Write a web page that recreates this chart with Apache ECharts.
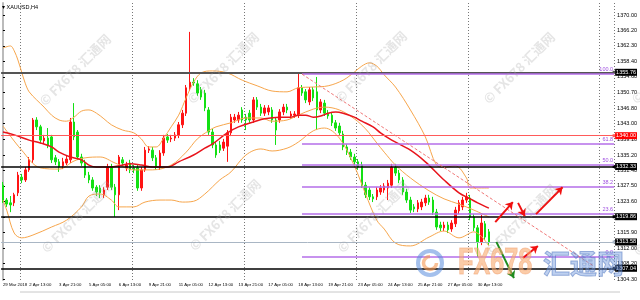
<!DOCTYPE html>
<html><head><meta charset="utf-8">
<script src="https://cdn.jsdelivr.net/npm/echarts@6/dist/echarts.min.js"></script>
<style>html,body{margin:0;padding:0;background:#fff}#c{width:640px;height:300px}</style>
</head><body><div id="c"></div>
<script>
// ---- data ----
const tickLabels = [[0,'29 Mar 2018'],[7,'2 Apr 13:00'],[15,'3 Apr 21:00'],[23,'5 Apr 05:00'],[31,'6 Apr 13:00'],[39,'9 Apr 21:00'],[47,'11 Apr 05:00'],[55,'12 Apr 13:00'],[63,'13 Apr 21:00'],[71,'17 Apr 05:00'],[79,'18 Apr 13:00'],[87,'19 Apr 21:00'],[95,'23 Apr 05:00'],[103,'24 Apr 13:00'],[111,'25 Apr 21:00'],[119,'27 Apr 05:00'],[127,'30 Apr 13:00']];
const slotCount = 164;
const gridSlots = [5,35,65,95,125,160];
const priceTicks = [1304.30,1308.20,1312.00,1315.90,1319.80,1323.60,1327.50,1331.40,1335.20,1339.10,1343.00,1346.80,1350.70,1354.60,1358.40,1362.30,1366.20,1370.00];
// [open, close, low, high]
const candles = [
[1327.7,1324.0,1323.3,1328.5],[1324.0,1323.0,1322.3,1324.5],[1323.3,1322.8,1321.0,1325.0],[1323.3,1325.3,1322.5,1325.8],[1325.8,1330.2,1325.0,1331.0],
[1329.7,1329.0,1328.2,1330.5],[1329.0,1331.5,1328.5,1332.2],[1331.5,1334.0,1331.0,1334.7],[1334.0,1343.9,1333.2,1344.4],[1343.9,1342.2,1341.4,1344.6],
[1342.2,1338.9,1338.2,1342.7],[1338.7,1339.4,1337.9,1340.2],[1339.4,1337.7,1336.9,1341.9],[1339.7,1334.0,1333.2,1340.2],[1334.5,1333.5,1332.7,1335.2],
[1333.5,1332.2,1331.0,1334.2],[1332.5,1333.5,1331.7,1334.5],[1333.2,1334.2,1332.7,1335.0],[1334.0,1343.4,1333.2,1344.4],[1343.4,1339.7,1338.9,1348.1],
[1340.9,1334.7,1334.0,1341.4],[1334.7,1333.2,1332.5,1335.5],[1333.2,1330.2,1329.5,1334.0],[1330.2,1329.0,1328.2,1331.0],[1329.0,1327.0,1326.3,1329.7],
[1327.2,1326.0,1325.0,1327.7],[1327.0,1325.8,1324.5,1327.7],[1325.3,1326.5,1324.5,1327.2],[1327.2,1332.2,1326.5,1333.0],[1332.2,1327.2,1326.5,1333.0],
[1327.2,1325.3,1319.8,1328.0],[1325.3,1334.7,1321.5,1335.2],[1334.0,1333.2,1332.5,1334.7],[1332.0,1332.7,1331.2,1333.5],[1333.2,1331.5,1330.7,1334.0],
[1332.0,1331.5,1330.7,1332.7],[1332.0,1327.0,1326.3,1332.7],[1327.0,1331.5,1326.3,1332.2],[1331.5,1336.4,1331.0,1337.2],[1336.4,1336.7,1335.7,1337.4],
[1336.4,1334.5,1333.7,1337.2],[1334.5,1332.2,1331.5,1335.2],[1332.2,1335.7,1331.5,1336.4],[1335.7,1339.4,1335.0,1340.2],[1339.7,1338.9,1338.2,1340.4],
[1339.2,1339.4,1338.4,1340.2],[1339.4,1340.2,1338.7,1340.9],[1340.2,1342.7,1339.4,1343.4],[1342.7,1345.6,1341.9,1346.4],[1345.6,1351.9,1344.9,1352.6],
[1351.9,1353.3,1351.1,1365.8],[1353.3,1353.1,1352.4,1354.3],[1352.9,1350.6,1349.9,1353.8],[1351.4,1349.6,1348.9,1352.1],[1350.6,1346.9,1346.1,1351.4],
[1346.4,1340.9,1340.2,1347.1],[1340.9,1337.7,1336.9,1341.7],[1337.7,1335.2,1334.5,1338.4],[1337.7,1336.4,1335.7,1338.7],[1336.9,1338.4,1336.2,1339.2],
[1337.4,1340.7,1333.5,1341.4],[1340.7,1344.6,1339.9,1345.4],[1343.9,1344.6,1343.2,1345.4],[1343.9,1345.1,1343.2,1345.9],[1346.4,1343.9,1343.2,1347.1],
[1344.6,1343.9,1341.4,1345.4],[1345.6,1343.9,1343.2,1346.4],[1343.9,1348.9,1343.2,1349.6],[1348.9,1347.1,1346.4,1349.6],[1347.1,1345.6,1344.9,1347.9],
[1345.6,1346.9,1344.9,1347.6],[1345.9,1346.9,1345.1,1347.6],[1346.4,1343.9,1343.2,1347.1],[1343.9,1341.4,1337.7,1344.6],[1343.9,1345.9,1343.2,1346.6],
[1345.9,1347.1,1345.1,1347.9],[1347.1,1346.4,1345.6,1347.9],[1344.9,1345.4,1344.2,1346.1],[1345.1,1345.4,1344.4,1346.1],[1345.1,1351.9,1344.4,1355.6],
[1351.9,1350.6,1349.9,1352.6],[1350.9,1348.9,1348.1,1351.6],[1348.4,1351.4,1347.6,1352.1],[1351.4,1349.4,1348.6,1352.1],[1350.9,1346.4,1341.4,1354.6],
[1346.4,1348.4,1345.6,1349.1],[1348.1,1345.6,1344.9,1348.9],[1345.6,1344.9,1344.2,1346.4],[1345.1,1343.2,1342.4,1345.9],[1343.2,1341.9,1341.2,1343.9],
[1342.4,1340.7,1339.9,1343.2],[1340.4,1337.2,1336.4,1341.2],[1337.2,1335.9,1335.2,1337.9],[1335.9,1334.7,1334.0,1336.7],[1334.7,1333.5,1332.7,1335.5],
[1333.5,1332.2,1331.5,1334.2],[1332.7,1327.7,1327.0,1333.5],[1327.7,1325.3,1324.5,1328.5],[1326.5,1324.8,1324.0,1327.2],[1324.8,1324.3,1323.5,1325.5],
[1324.8,1326.5,1324.0,1327.2],[1326.0,1327.0,1325.3,1327.7],[1326.5,1327.5,1325.8,1328.2],[1327.0,1328.2,1324.0,1329.0],[1327.7,1332.2,1327.0,1333.0],
[1332.2,1330.7,1330.0,1333.0],[1330.7,1329.0,1328.2,1331.5],[1329.0,1326.0,1325.3,1329.7],[1326.0,1324.0,1323.3,1326.8],[1324.0,1321.5,1320.8,1324.8],
[1322.3,1321.8,1321.0,1323.0],[1321.8,1323.3,1321.0,1324.0],[1322.3,1323.5,1321.5,1324.3],[1323.3,1324.5,1322.5,1325.3],[1324.5,1323.5,1322.8,1325.3],
[1324.0,1321.0,1320.3,1324.8],[1321.0,1317.3,1316.6,1321.8],[1317.8,1317.1,1316.3,1318.6],[1317.1,1317.8,1316.3,1318.6],[1317.8,1316.6,1315.8,1318.6],
[1316.8,1318.3,1316.1,1319.0],[1318.1,1321.5,1317.3,1322.3],[1321.3,1323.3,1320.5,1324.0],[1322.3,1324.0,1321.5,1324.8],[1324.0,1324.8,1323.3,1325.8],
[1324.5,1319.8,1319.0,1325.3],[1319.8,1317.1,1316.3,1320.5],[1317.1,1313.6,1309.8,1317.8],[1313.6,1318.3,1312.8,1320.3],[1318.1,1314.8,1314.1,1318.8],
[1316.1,1313.6,1312.8,1316.8]
];
// Bollinger bands (orange) and slower moving average (red), read at bar indices
const bbUpper = [[0,1361.8],[2,1362.3],[3,1361.1],[4,1358.8],[5,1355.8],[6,1352.9],[7,1350.9],[9,1348.9],[11,1347.1],[13,1345.1],[15,1343.9],[17,1343.6],[19,1344.6],[21,1346.1],[23,1346.4],[25,1345.6],[27,1344.2],[29,1342.7],[32,1341.4],[35,1340.7],[37,1339.2],[39,1337.2],[41,1337.2],[43,1339.4],[45,1342.2],[47,1345.1],[49,1349.4],[51,1353.3],[53,1355.6],[56,1356.1],[60,1355.6],[64,1353.8],[68,1352.4],[72,1351.1],[76,1350.9],[79,1351.9],[83,1352.1],[87,1352.4],[91,1353.8],[94,1355.8],[96,1357.3],[98,1358.1],[100,1357.3],[102,1355.1],[105,1352.1],[109,1346.4],[113,1339.7],[116,1332.7],[118,1332.2],[121,1332.5],[124,1329.5],[125,1327.0],[130,1327.0]];
const bbMiddle = [[0,1342.4],[5,1336.4],[10,1332.0],[15,1331.7],[19,1333.7],[22,1334.5],[26,1334.7],[30,1333.2],[35,1331.5],[40,1331.5],[45,1332.7],[49,1335.9],[52,1339.2],[55,1341.2],[57,1342.2],[61,1343.2],[65,1344.4],[69,1344.4],[72,1343.6],[76,1343.9],[79,1345.1],[83,1346.6],[86,1347.1],[90,1346.4],[94,1344.2],[97,1341.7],[100,1338.2],[102,1335.9],[105,1332.7],[109,1329.5],[114,1326.3],[118,1324.3],[122,1323.0],[126,1321.5],[130,1319.8]];
const bbLower = [[0,1324.0],[1,1321.5],[3,1315.8],[5,1314.6],[8,1315.3],[13,1317.3],[17,1319.0],[21,1322.3],[23,1325.0],[26,1325.5],[29,1324.0],[31,1322.3],[35,1322.3],[38,1323.5],[42,1324.0],[45,1324.0],[48,1323.5],[51,1323.7],[54,1325.5],[58,1329.0],[61,1331.0],[65,1335.2],[69,1336.7],[72,1336.2],[76,1336.9],[79,1338.4],[83,1341.2],[86,1341.9],[90,1339.4],[94,1332.5],[97,1325.5],[100,1319.0],[102,1316.8],[105,1313.3],[109,1312.6],[114,1314.8],[118,1316.3],[122,1314.6],[126,1316.1],[130,1312.6]];
const maLine = [[0,1340.9],[3,1340.2],[7,1338.9],[10,1338.2],[13,1337.2],[15,1335.9],[18,1334.7],[21,1334.0],[23,1332.7],[25,1332.2],[29,1332.2],[31,1332.5],[34,1333.0],[37,1332.7],[40,1332.2],[44,1332.2],[47,1333.5],[51,1335.2],[54,1336.9],[56,1337.9],[60,1340.7],[63,1342.2],[67,1343.4],[70,1344.2],[74,1344.6],[77,1344.6],[79,1345.1],[81,1345.1],[83,1344.6],[85,1344.9],[87,1345.6],[89,1345.9],[91,1345.6],[94,1344.6],[96,1343.6],[99,1342.2],[101,1340.7],[104,1338.9],[109,1336.4],[113,1333.5],[118,1329.0],[122,1325.8],[125,1324.3],[127,1323.3],[130,1322.0]];
// horizontal levels
const levelLines = [
  {v:1355.76, color:'#555', width:2, box:'#000'},
  {v:1340.00, color:'#ff5a5a', width:1, box:'#ff0000'},
  {v:1332.33, color:'#000', width:1.5, box:'#000'},
  {v:1319.86, color:'#000', width:1.5, box:'#000'},
  {v:1313.58, color:'#a9b6c4', width:1, box:'#000'},
  {v:1307.04, color:'#000', width:1.5, box:'#000'}
];
const fibStart = 80;
const fibLevels = [['100.0',1355.5],['61.8',1338.1],['50.0',1332.75],['38.2',1327.4],['23.6',1320.7],['0.0',1310.0]];
const trendLine = [[80,1355.3],[158,1307.6]];
const arrows = [
  {from:[131.7,1318.5], to:[136.4,1323.5], color:'#f01010'},
  {from:[137.8,1323.3], to:[139.6,1320.0], color:'#f01010'},
  {from:[142.6,1320.5], to:[149.7,1327.2], color:'#f01010'},
  {from:[132.0,1313.6], to:[136.7,1304.6], color:'#1e8c1e'},
  {from:[139.1,1309.6], to:[143.1,1312.6], color:'#f01010'}
];

// ---- chart ----
const labelAt = Object.fromEntries(tickLabels);
const categories = Array.from({length: slotCount}, (_, i) => String(i));
const gridSet = new Set(gridSlots);
const FONT = 'Liberation Sans';

const levelMarks = levelLines.map(l => ({
  yAxis: l.v,
  lineStyle: {color: l.color, width: l.width, type: 'solid'},
  label: {show: true, position: 'end', distance: 1, formatter: l.v.toFixed(2), color: '#fff',
          backgroundColor: l.box, fontSize: 5.5, fontFamily: FONT, padding: [1, 1, 0, 1]}
}));
const fibMarks = fibLevels.map(f => [
  {coord: [fibStart, f[1]], lineStyle: {color: '#b46ee8', width: 1.5, type: 'solid'},
   label: {show: true, position: 'insideEndTop', distance: 1, formatter: f[0], color: '#a050e0', fontSize: 5.5, fontFamily: FONT}},
  {coord: [slotCount - 0.5, f[1]]}
]);
const arrowMarks = arrows.map(a => [
  {coord: a.from, lineStyle: {color: a.color, width: 2, type: 'solid'}, symbol: 'none'},
  {coord: a.to, symbol: 'arrow', symbolSize: 7}
]);

const wmText = '© FX678 汇通网';
const wmCenters = [[75,70],[223,68],[371,67],[519,68],[667,68],[77,217],[225,215],[373,217],[521,220],[669,220]];
const graphics = wmCenters.map(c => ({
  type: 'text', x: c[0], y: c[1], rotation: Math.PI / 4, z: 100, silent: true,
  style: {text: wmText, fontSize: 13, fontWeight: 'bold', fontFamily: 'Noto Sans CJK SC',
          fill: 'rgba(160,160,160,0.28)', align: 'center', verticalAlign: 'middle'}
}));
graphics.push(
  {type: 'text', x: 2, y: 7, z: 100, style: {text: '▾ XAUUSD,H4', fontSize: 5.5, fontFamily: FONT, fill: '#000', verticalAlign: 'middle'}},
  {type: 'circle', shape: {cx: 430, cy: 263, r: 12}, z: 100, style: {fill: 'none', stroke: 'rgba(90,140,220,0.55)', lineWidth: 4}},
  {type: 'arc', shape: {cx: 430, cy: 263, r: 6.5, startAngle: 0, endAngle: Math.PI * 1.5}, z: 100, style: {fill: 'none', stroke: 'rgba(245,150,80,0.6)', lineWidth: 3.5}},
  {type: 'text', x: 458, y: 264, scaleX: 0.7, z: 100, style: {text: 'FX678', fontSize: 36, fontWeight: 'bold', fontFamily: FONT, fill: 'rgba(248,170,110,0.6)', stroke: 'rgba(235,140,90,0.45)', lineWidth: 1, verticalAlign: 'middle'}},
  {type: 'text', x: 543, y: 264, z: 100, style: {text: '汇通网', fontSize: 27, fontWeight: 'bold', fontFamily: 'Noto Sans CJK SC', fill: 'rgba(110,150,220,0.45)', stroke: 'rgba(60,100,180,0.5)', lineWidth: 1, verticalAlign: 'middle'}},
  {type: 'line', shape: {x1: 20, y1: 292, x2: 620, y2: 292}, style: {stroke: '#c8c8c8', lineWidth: 1}}
);

const chart = echarts.init(document.getElementById('c'), null, {renderer: 'canvas'});
chart.setOption({
  animation: false,
  backgroundColor: '#fff',
  textStyle: {fontFamily: FONT},
  grid: {left: 0, right: 21, top: 3, bottom: 20},
  graphic: graphics,
  xAxis: [
    {type: 'category', data: categories, boundaryGap: true,
     axisLine: {show: false}, axisTick: {show: false},
     axisLabel: {interval: (i) => labelAt[i] !== undefined, formatter: (v, i) => labelAt[i] || '',
                 showMinLabel: true, hideOverlap: false,
                 fontSize: 4.3, color: '#000', align: 'left', margin: 3, fontFamily: FONT},
     splitLine: {show: true, interval: (i) => gridSet.has(i), lineStyle: {color: '#777', type: [1, 2], width: 1}}},
    {type: 'value', min: -0.5, max: slotCount - 0.5, show: false}
  ],
  yAxis: {type: 'value', position: 'right', min: 1304.13, max: 1372.98, scale: true,
    axisLine: {show: true, lineStyle: {color: '#bbb', width: 2}},
    axisTick: {show: true, customValues: priceTicks, length: 2, lineStyle: {color: '#000'}},
    axisLabel: {customValues: priceTicks, formatter: (v) => v.toFixed(2), fontSize: 5.5, color: '#000', margin: 3, fontFamily: FONT},
    splitLine: {show: false}},
  series: [
    {type: 'candlestick', xAxisIndex: 0, data: candles, barWidth: 2,
     itemStyle: {color: '#ff1414', color0: '#14e014', borderColor: '#ff1414', borderColor0: '#14e014', borderWidth: 1},
     markLine: {silent: true, symbol: ['none', 'rect'], symbolSize: 3, data: levelMarks}},
    {type: 'line', xAxisIndex: 1, data: bbUpper, smooth: 0.35, showSymbol: false, lineStyle: {color: '#f7a64c', width: 1}},
    {type: 'line', xAxisIndex: 1, data: bbMiddle, smooth: 0.35, showSymbol: false, lineStyle: {color: '#f7a64c', width: 1}},
    {type: 'line', xAxisIndex: 1, data: bbLower, smooth: 0.35, showSymbol: false, lineStyle: {color: '#f7a64c', width: 1}},
    {type: 'line', xAxisIndex: 1, data: maLine, smooth: 0.35, showSymbol: false, lineStyle: {color: '#e8141c', width: 1.5}},
    {type: 'line', xAxisIndex: 1, data: [], markLine: {silent: true, symbol: 'none', data: fibMarks}},
    {type: 'line', xAxisIndex: 1, data: [], markLine: {silent: true, symbol: 'none',
      data: [[{coord: trendLine[0], lineStyle: {color: '#f07878', width: 1, type: [3, 2]}}, {coord: trendLine[1]}]]}},
    {type: 'line', xAxisIndex: 1, data: [], markLine: {silent: true, data: arrowMarks}}
  ]
});
</script></body></html>
